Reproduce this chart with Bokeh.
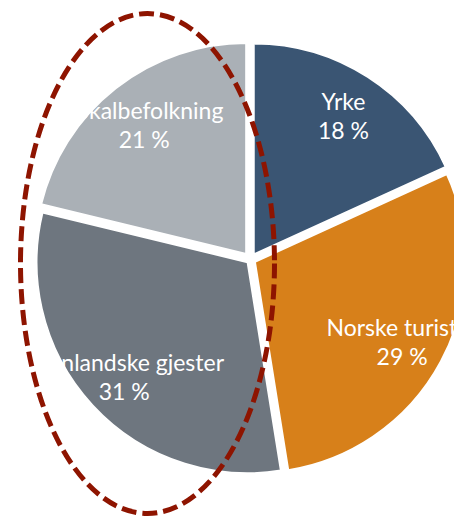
import math
from bokeh.plotting import figure
from bokeh.models import Range1d, ColumnDataSource
from bokeh.core.properties import value
from bokeh.embed import file_html
from bokeh.resources import INLINE

# Data
categories = ["Yrke", "Norske turister", "Utenlandske gjester", "Lokalbefolkning"]
shares = [18, 29, 31, 21]
labels_pct = ["18 %", "29 %", "31 %", "21 %"]
colors = ["#3A5573", "#D7801A", "#6E767F", "#AAB0B6"]

# Layout (pixel-like data coordinates, y up)
W, H = 454, 518
cx, cy = 250, 259
R = 211
explode = [6, 5, 4, 7]
label_r = 172

p = figure(width=W, height=H, output_backend="svg", toolbar_location=None,
           x_range=Range1d(0, W), y_range=Range1d(518 - H, 518),
           min_border=0, outline_line_color=None)
p.axis.visible = False
p.grid.visible = False
p.background_fill_color = "white"
p.border_fill_color = "white"

total = sum(shares)
xs, ys, starts, ends, lx, ly = [], [], [], [], [], []
cum = 0.0
for i, s in enumerate(shares):
    a0 = cum / total * 2 * math.pi
    cum += s
    a1 = cum / total * 2 * math.pi
    mid = (a0 + a1) / 2
    # clockwise from top
    dx, dy = math.sin(mid), math.cos(mid)
    xs.append(cx + explode[i] * dx)
    ys.append(cy + explode[i] * dy)
    starts.append(math.pi / 2 - a0)
    ends.append(math.pi / 2 - a1)
    lx.append(cx + label_r * dx)
    ly.append(cy + label_r * dy)

src = ColumnDataSource(dict(x=xs, y=ys, start=starts, end=ends, color=colors,
                            name=categories, pct=labels_pct, lx=lx, ly=ly))

p.wedge(x="x", y="y", radius=R, start_angle="start", end_angle="end",
        direction="clock", fill_color="color", line_color="white", line_width=2,
        source=src)

p.text(x="lx", y="ly", text="name", source=src, text_color="white",
       text_font=value("Lato"), text_font_size="23px", text_align="center",
       text_baseline="middle", y_offset=-14)
p.text(x="lx", y="ly", text="pct", source=src, text_color="white",
       text_font=value("Lato"), text_font_size="23px", text_align="center",
       text_baseline="middle", y_offset=15)

# highlight ellipse
p.ellipse(x=[147], y=[518 - 263], width=[254], height=[500], fill_alpha=0,
          line_color="#8E1400", line_width=5, line_dash="15 6")

open("out.html", "w").write(file_html(p, INLINE))
